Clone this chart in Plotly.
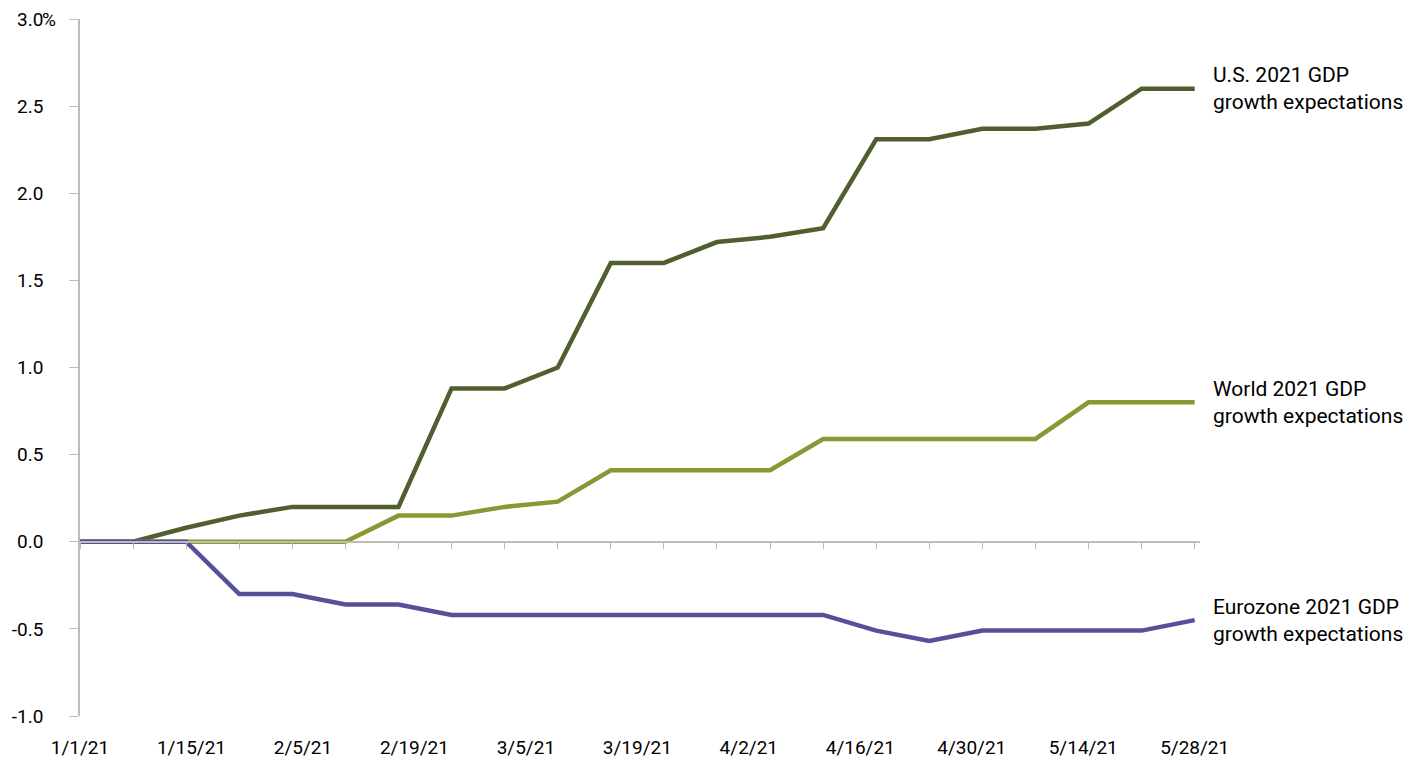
import numpy as np
import plotly.graph_objects as go

# weekly observations, 1/1/21 through 5/28/21
week_index = list(range(22))

date_labels = ["1/1/21", "1/15/21", "2/5/21", "2/19/21", "3/5/21", "3/19/21",
               "4/2/21", "4/16/21", "4/30/21", "5/14/21", "5/28/21"]

us_gdp = [0.0, 0.0, 0.08, 0.15, 0.2, 0.2, 0.2, 0.88, 0.88, 1.0, 1.6,
          1.6, 1.72, 1.75, 1.8, 2.31, 2.31, 2.37, 2.37, 2.4, 2.6, 2.6]

world_gdp = [0.0, 0.0, 0.0, 0.0, 0.0, 0.0, 0.15, 0.15, 0.2, 0.23, 0.41,
             0.41, 0.41, 0.41, 0.59, 0.59, 0.59, 0.59, 0.59, 0.8, 0.8, 0.8]

eurozone_gdp = [0.0, 0.0, 0.0, -0.3, -0.3, -0.36, -0.36, -0.42, -0.42, -0.42, -0.42,
                -0.42, -0.42, -0.42, -0.42, -0.51, -0.57, -0.51, -0.51, -0.51, -0.51, -0.45]

series_names = ["U.S. 2021 GDP<br>growth expectations",
                "World 2021 GDP<br>growth expectations",
                "Eurozone 2021 GDP<br>growth expectations"]

y_ticks = [-1.0, -0.5, 0.0, 0.5, 1.0, 1.5, 2.0, 2.5, 3.0]

colors = ["#505F30", "#8C9635", "#55509A"]
axis_color = "#C2BBB2"
font_family = "Roboto, 'Open Sans', sans-serif"

fig = go.Figure()

for values, name, color in zip([us_gdp, world_gdp, eurozone_gdp], series_names, colors):

	fig.add_trace(
		go.Scatter(
			x=week_index,
			y=values,
			mode='lines',
			name=name,
			line=dict(color=color, width=4.5),
			showlegend=False
		)
	)

	fig.add_annotation(
		x=week_index[-1],
		y=values[-1],
		text=name,
		showarrow=False,
		xanchor='left',
		yanchor='middle',
		align='left',
		xshift=16,
		font=dict(size=21, color='black', family=font_family)
	)

# invisible trace so the zero-line axis with weekly ticks gets drawn
fig.add_trace(
	go.Scatter(
		x=week_index,
		y=us_gdp,
		xaxis='x2',
		mode='markers',
		marker=dict(opacity=0),
		hoverinfo='skip',
		showlegend=False
	)
)

x_range = [0, 21.1]
y_range = [-1, 3]

fig.update_layout(
	width=1421,
	height=761,
	margin=dict(l=80, r=221, t=19, b=45, autoexpand=False),
	plot_bgcolor='white',
	paper_bgcolor='white',
	font=dict(family=font_family, size=19, color='black'),
	xaxis=dict(
		range=x_range,
		tickmode='array',
		tickvals=list(np.linspace(0, week_index[-1], len(date_labels))),
		ticktext=date_labels,
		showline=False,
		showgrid=False,
		zeroline=False,
		ticks='',
		ticklabelstandoff=18,
		automargin=False
	),
	xaxis2=dict(
		range=x_range,
		overlaying='x',
		anchor='free',
		position=(0 - y_range[0]) / (y_range[1] - y_range[0]),
		tickmode='linear',
		tick0=0,
		dtick=1,
		ticks='outside',
		ticklen=6,
		tickcolor=axis_color,
		showline=True,
		linecolor=axis_color,
		linewidth=1.5,
		showticklabels=False,
		showgrid=False,
		zeroline=False,
		automargin=False
	),
	yaxis=dict(
		range=y_range,
		tickmode='array',
		tickvals=y_ticks,
		ticktext=["%.1f" % v for v in y_ticks],
		ticks='outside',
		ticklen=9,
		tickcolor=axis_color,
		showline=True,
		linecolor=axis_color,
		linewidth=1.5,
		showgrid=False,
		zeroline=False,
		ticklabelstandoff=22,
		automargin=False
	)
)

fig.add_annotation(
	x=0,
	xref='paper',
	y=y_ticks[-1],
	yref='y',
	text='%',
	showarrow=False,
	xanchor='left',
	yanchor='middle',
	xshift=-40,
	font=dict(size=19, color='black', family=font_family)
)

# drop the default body margin so the figure fills the window exactly
fig.write_html(
	"out.html",
	config={'displayModeBar': False},
	post_script="document.body.style.margin = '0';"
)
